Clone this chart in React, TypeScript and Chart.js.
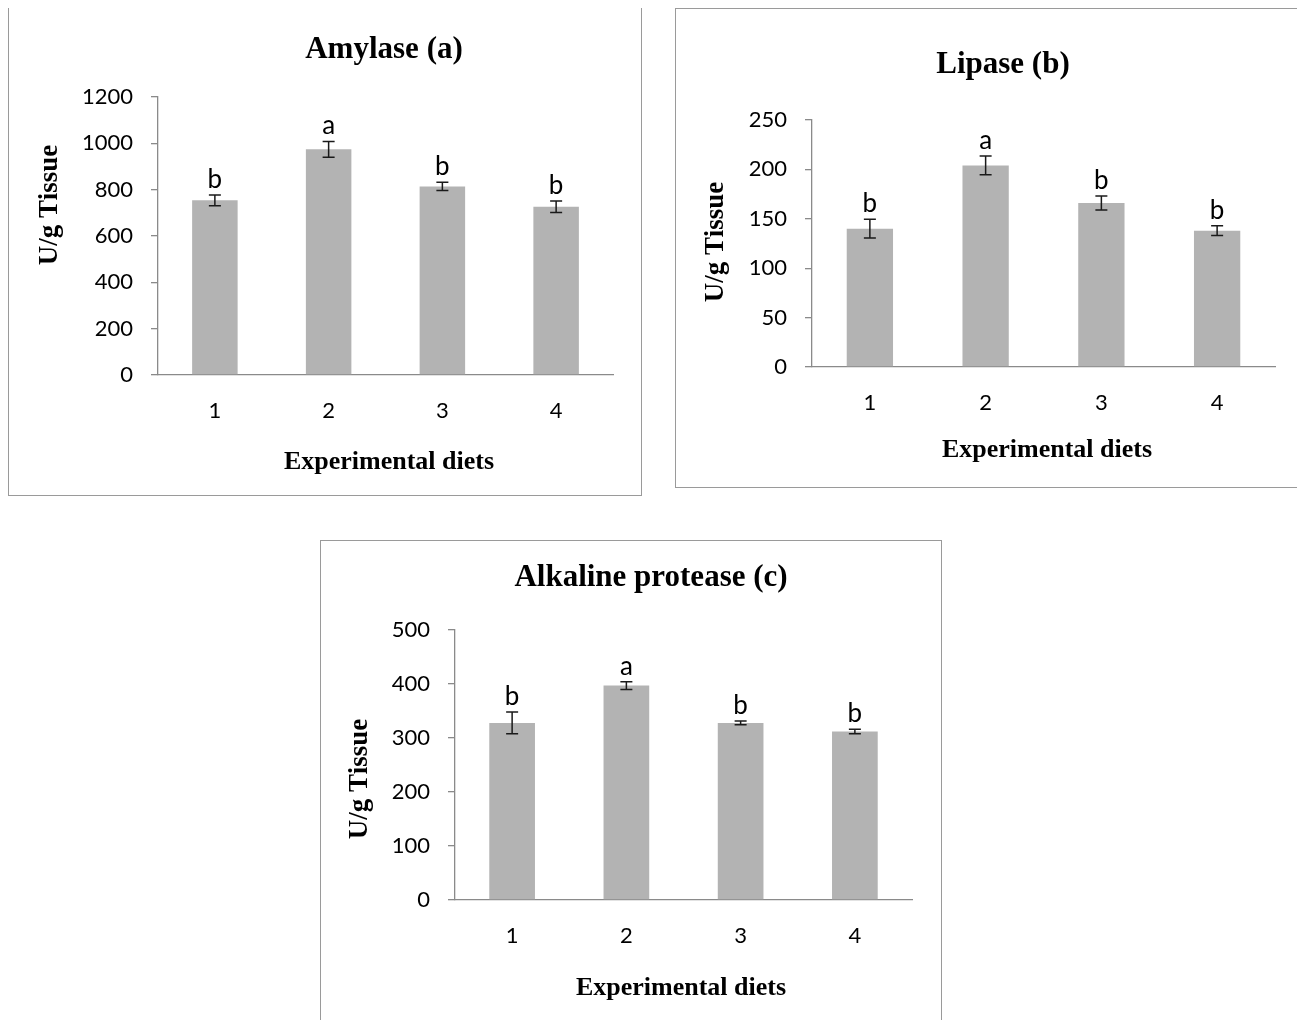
import React, { useEffect, useRef } from 'react';
import { Chart, registerables } from 'chart.js';

Chart.register(...registerables);

// ---- Data ----
const dietLabels = ['1', '2', '3', '4'];

const amylaseMeans = [754, 974, 814, 726];
const amylaseErrors = [23, 34, 18, 25];
const amylaseLetters = ['b', 'a', 'b', 'b'];
const amylaseTicks = [0, 200, 400, 600, 800, 1000, 1200];

const lipaseMeans = [140, 204, 166, 138];
const lipaseErrors = [9.5, 9.5, 7, 5];
const lipaseLetters = ['b', 'a', 'b', 'b'];
const lipaseTicks = [0, 50, 100, 150, 200, 250];

const proteaseMeans = [328, 397, 328, 312];
const proteaseErrors = [20, 7, 3.5, 4];
const proteaseLetters = ['b', 'a', 'b', 'b'];
const proteaseTicks = [0, 100, 200, 300, 400, 500];

const xAxisTitle = 'Experimental diets';
const yAxisTitle = 'U/g Tissue';

// ---- Layout (page coordinates) ----
const panels = [
  {
    key: 'a',
    title: 'Amylase (a)',
    means: amylaseMeans, errors: amylaseErrors, letters: amylaseLetters, ticks: amylaseTicks,
    frame: { x: 8, y: 7, w: 634, h: 489, noBottom: false },
    plot: { left: 158, right: 613, top: 97, bottom: 375 },
    titlePos: { x: 384, y: 50 }, yTitlePos: { x: 50, y: 205 }, xTitlePos: { x: 389, y: 462 },
  },
  {
    key: 'b',
    title: 'Lipase (b)',
    means: lipaseMeans, errors: lipaseErrors, letters: lipaseLetters, ticks: lipaseTicks,
    frame: { x: 675, y: 8, w: 623, h: 480, noBottom: false },
    plot: { left: 812, right: 1275, top: 120, bottom: 367 },
    titlePos: { x: 1003, y: 65 }, yTitlePos: { x: 716, y: 242 }, xTitlePos: { x: 1047, y: 450 },
  },
  {
    key: 'c',
    title: 'Alkaline protease (c)',
    means: proteaseMeans, errors: proteaseErrors, letters: proteaseLetters, ticks: proteaseTicks,
    frame: { x: 320, y: 540, w: 622, h: 480, noBottom: true },
    plot: { left: 455, right: 912, top: 630, bottom: 900 },
    titlePos: { x: 651, y: 578 }, yTitlePos: { x: 360, y: 779 }, xTitlePos: { x: 681, y: 988 },
  },
];

const SANS = 'Lato, "Open Sans", sans-serif';
const SERIF = '"Liberation Serif", "Times New Roman", serif';
const AXIS_COLOR = '#8a8a8a';
const BAR_COLOR = '#b3b3b3';
const FRAME_COLOR = '#9a9a9a';
const X_AXIS_H = 64;

function Panel({ cfg }: { cfg: any }) {
  const ref = useRef<HTMLCanvasElement | null>(null);
  const ox = cfg.frame.x + 1;
  const oy = cfg.frame.y + 1;
  const cw = cfg.frame.w - 2;
  const ch = cfg.frame.h - (cfg.frame.noBottom ? 1 : 2);

  useEffect(() => {
    if (!ref.current) return;
    const plotLeft = cfg.plot.left - ox;
    const plotRight = cfg.plot.right - ox;
    const plotTop = cfg.plot.top - oy;
    const plotBottom = cfg.plot.bottom - oy;
    const ticks: number[] = cfg.ticks;
    const step = ticks[1] - ticks[0];

    const decor = {
      id: 'decor' + cfg.key,
      afterDatasetsDraw(c: any) {
        const ctx = c.ctx;
        const xs = c.scales.x;
        const ys = c.scales.y;
        ctx.save();
        cfg.means.forEach((m: number, i: number) => {
          const e = cfg.errors[i];
          const px = xs.getPixelForValue(i);
          const top = ys.getPixelForValue(m + e);
          const bot = ys.getPixelForValue(m - e);
          ctx.strokeStyle = '#1a1a1a';
          ctx.lineWidth = 1.5;
          ctx.beginPath();
          ctx.moveTo(px, top);
          ctx.lineTo(px, bot);
          ctx.moveTo(px - 6, top);
          ctx.lineTo(px + 6, top);
          ctx.moveTo(px - 6, bot);
          ctx.lineTo(px + 6, bot);
          ctx.stroke();
          ctx.fillStyle = '#000';
          ctx.font = '26px ' + SANS;
          ctx.textAlign = 'center';
          ctx.textBaseline = 'alphabetic';
          ctx.fillText(cfg.letters[i], px, top - 7);
        });
        ctx.fillStyle = '#000';
        ctx.textAlign = 'center';
        ctx.textBaseline = 'middle';
        ctx.font = 'bold 31px ' + SERIF;
        ctx.fillText(cfg.title, cfg.titlePos.x - ox, cfg.titlePos.y - oy);
        ctx.font = 'bold 26px ' + SERIF;
        ctx.fillText(xAxisTitle, cfg.xTitlePos.x - ox, cfg.xTitlePos.y - oy);
        ctx.save();
        ctx.translate(cfg.yTitlePos.x - ox, cfg.yTitlePos.y - oy);
        ctx.rotate(-Math.PI / 2);
        ctx.font = 'bold 27px ' + SERIF;
        ctx.fillText(yAxisTitle, 0, 0);
        ctx.restore();
        ctx.restore();
      },
    };

    const chart = new Chart(ref.current, {
      type: 'bar',
      data: {
        labels: dietLabels,
        datasets: [
          {
            data: cfg.means,
            backgroundColor: BAR_COLOR,
            borderWidth: 0,
            barPercentage: 0.4,
            categoryPercentage: 1,
          },
        ],
      },
      options: {
        responsive: false,
        animation: false,
        layout: {
          padding: {
            left: 0,
            top: plotTop,
            right: cw - plotRight,
            bottom: ch - plotBottom - X_AXIS_H,
          },
        },
        plugins: {
          legend: { display: false },
          title: { display: false },
          tooltip: { enabled: false },
        },
        scales: {
          x: {
            grid: { display: false, drawTicks: false },
            border: { display: true, color: AXIS_COLOR, width: 1.3 },
            ticks: { color: '#000', font: { family: SANS, size: 22 }, padding: 23 },
            afterFit: function (s: any) { s.height = X_AXIS_H; },
          },
          y: {
            min: ticks[0],
            max: ticks[ticks.length - 1],
            grid: { drawOnChartArea: false, drawTicks: true, tickLength: 7, color: AXIS_COLOR, lineWidth: 1.3 },
            border: { display: true, color: AXIS_COLOR, width: 1.3 },
            ticks: {
              stepSize: step,
              color: '#000',
              font: { family: SANS, size: 22 },
              padding: 18,
              callback: function (v: any) { return String(v); },
            },
            afterFit: function (s: any) { s.width = plotLeft; },
          },
        },
      },
      plugins: [decor],
    } as any);
    return () => { chart.destroy(); };
  }, []);

  return (
    <div
      style={{
        position: 'absolute',
        left: cfg.frame.x,
        top: cfg.frame.y,
        width: cfg.frame.w,
        height: cfg.frame.h,
        boxSizing: 'border-box',
        borderTop: '1px solid ' + FRAME_COLOR,
        borderLeft: '1px solid ' + FRAME_COLOR,
        borderRight: '1px solid ' + FRAME_COLOR,
        borderBottom: cfg.frame.noBottom ? 'none' : '1px solid ' + FRAME_COLOR,
        background: '#fff',
      }}
    >
      <canvas ref={ref} width={cw} height={ch} style={{ display: 'block', width: cw, height: ch }} />
    </div>
  );
}

export default function App() {
  return (
    <div style={{ position: 'relative', marginTop: -8, marginLeft: -8, width: 1305, height: 1020, background: '#fff' }}>
      {panels.map((p) => (
        <Panel key={p.key} cfg={p} />
      ))}
    </div>
  );
}
